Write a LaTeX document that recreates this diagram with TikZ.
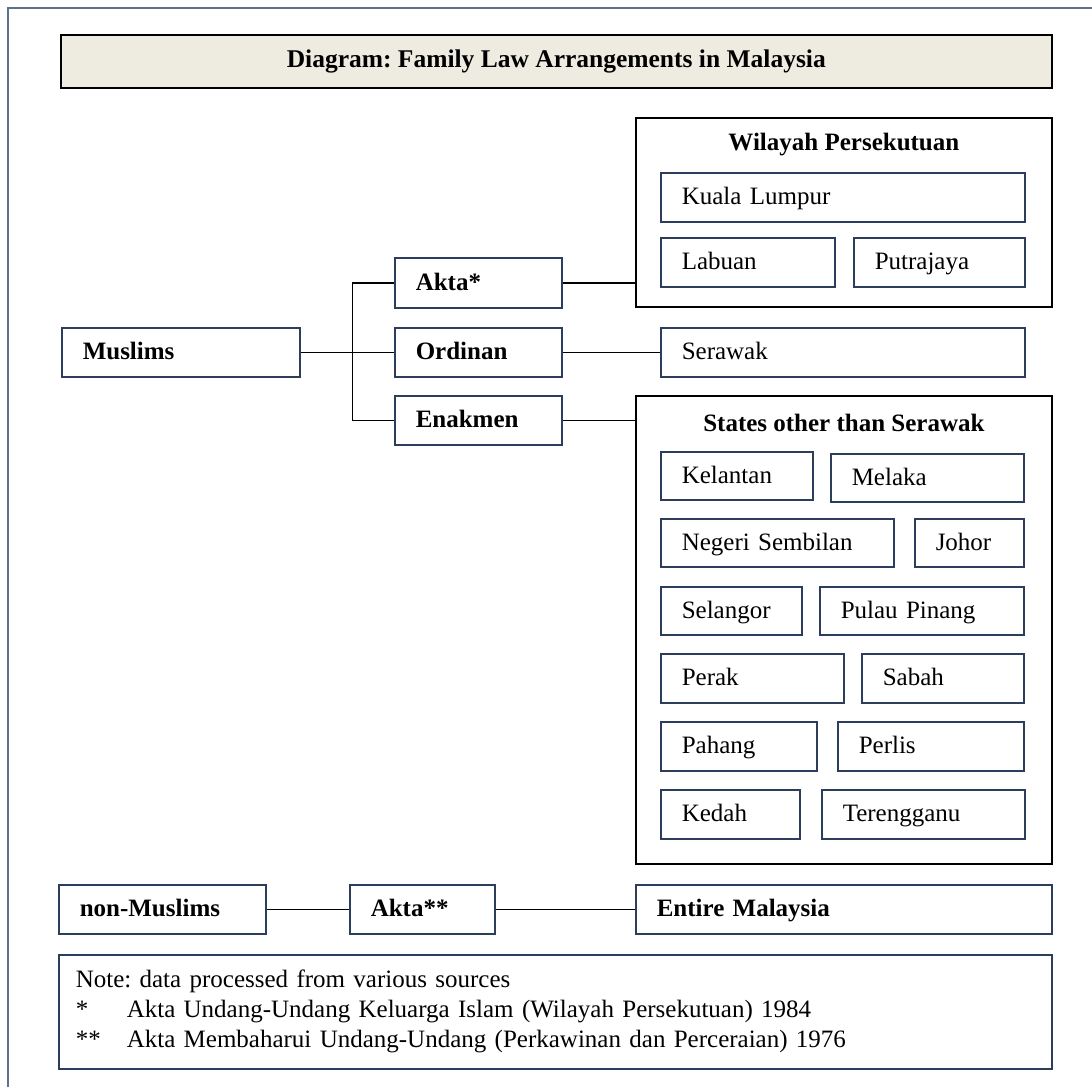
\documentclass[tikz,border=0pt]{standalone}
\usepackage{fontspec}
\setmainfont{Liberation Serif}
\usepackage{tikz}
\usetikzlibrary{calc}
\definecolor{boxblue}{RGB}{44,62,92}
\definecolor{framegray}{RGB}{95,112,138}
\definecolor{titletan}{RGB}{238,236,225}
\newcommand\cellnode[6]{%
  \pgfmathsetmacro\cellw{#4-#2-42}%
  \pgfmathsetmacro\cellh{#5-#3}%
  \node[cell,text width=\cellw pt,minimum height=\cellh pt] (#1) at (#2,#3) {#6};}
\newcommand\groupnode[6]{%
  \pgfmathsetmacro\cellw{#4-#2}%
  \pgfmathsetmacro\cellh{#5-#3}%
  \node[group,minimum width=\cellw pt,minimum height=\cellh pt] (#1) at (#2,#3) {};
  \node[font=\fontsize{25}{30}\selectfont\bfseries] (#1title) at ($(#1.north)+(0,28)$) {#6};}

\begin{document}
\frenchspacing
\begin{tikzpicture}[x=1pt,y=-1pt]
\tikzstyle{every node}+=[font=\fontsize{25}{30}\selectfont]
\tikzstyle{cell}=[draw=boxblue,line width=1.5pt,anchor=north west,inner xsep=21pt,inner ysep=0pt,
  align=left,text height=18pt,text depth=3pt]
\tikzstyle{group}=[draw=black,line width=1.8pt,anchor=north west,inner sep=0pt]
\tikzstyle{link}=[black,line width=1.5pt]
\useasboundingbox (0,0) rectangle (1092,1087);
\draw [framegray,line width=2pt] (8,1087) -- (8,8) -- (1092,8);

\node [draw=black,fill=titletan,line width=1.5pt,anchor=north west,inner sep=0pt,
  minimum width=991pt,minimum height=53pt,font=\fontsize{25.5}{30}\selectfont\bfseries]
  (title) at (60,34) {Diagram: Family Law Arrangements in Malaysia};

\cellnode{muslims}{61}{327}{299}{376}{\textbf{Muslims}}
\cellnode{akta}{394}{257}{561}{307}{\textbf{Akta*}}
\cellnode{ordinan}{394}{327}{561}{376}{\textbf{Ordinan}}
\cellnode{enakmen}{394}{395}{561}{444}{\textbf{Enakmen}}

\groupnode{wilayah}{635}{117}{1051}{306}{Wilayah Persekutuan}
\cellnode{kl}{660}{172}{1024}{221}{Kuala Lumpur}
\cellnode{labuan}{660}{237}{834}{286}{Labuan}
\cellnode{putrajaya}{853}{237}{1024}{286}{Putrajaya}

\cellnode{serawak}{660}{327}{1024}{376}{Serawak}

\groupnode{states}{635}{395}{1051}{863}{States other than Serawak}
\cellnode{kelantan}{660}{451}{812}{499}{Kelantan}
\cellnode{melaka}{830}{453}{1023}{501}{Melaka}
\cellnode{negeri}{660}{518}{893}{566}{Negeri Sembilan}
\cellnode{johor}{914}{518}{1023}{566}{Johor}
\cellnode{selangor}{660}{586}{801}{634}{Selangor}
\cellnode{pulau}{819}{586}{1023}{634}{Pulau Pinang}
\cellnode{perak}{660}{653}{843}{702}{Perak}
\cellnode{sabah}{861}{653}{1023}{702}{Sabah}
\cellnode{pahang}{660}{721}{816}{770}{Pahang}
\cellnode{perlis}{837}{721}{1023}{770}{Perlis}
\cellnode{kedah}{660}{789}{799}{838}{Kedah}
\cellnode{terengganu}{821}{789}{1024}{838}{Terengganu}

\cellnode{nonmuslims}{58}{884}{265}{933}{\textbf{non-Muslims}}
\cellnode{aktatwo}{349}{884}{494}{933}{\textbf{Akta**}}
\cellnode{entire}{635}{884}{1051}{933}{\textbf{Entire Malaysia}}

\node [cell,inner xsep=17pt,text height=,text depth=,text width=959pt,minimum height=114pt]
  (note) at (58,954) {Note: data processed from various sources\\
  \makebox[51pt][l]{*}Akta Undang-Undang Keluarga Islam (Wilayah Persekutuan) 1984\\
  \makebox[51pt][l]{**}Akta Membaharui Undang-Undang (Perkawinan dan Perceraian) 1976};

\coordinate (fork) at ($(muslims.east)+(52,0)$);
\draw [link] (muslims.east) -- (fork);
\draw [link] (akta.west) -| (fork) |- (enakmen.west);
\draw [link] (fork) -- (ordinan.west);
\draw [link] (akta.east) -- (akta.east -| wilayah.west);
\draw [link] (ordinan.east) -- (serawak.west);
\draw [link] (enakmen.east) -- (enakmen.east -| states.west);
\draw [link] (nonmuslims.east) -- (aktatwo.west);
\draw [link] (aktatwo.east) -- (entire.west);
\end{tikzpicture}
\end{document}
